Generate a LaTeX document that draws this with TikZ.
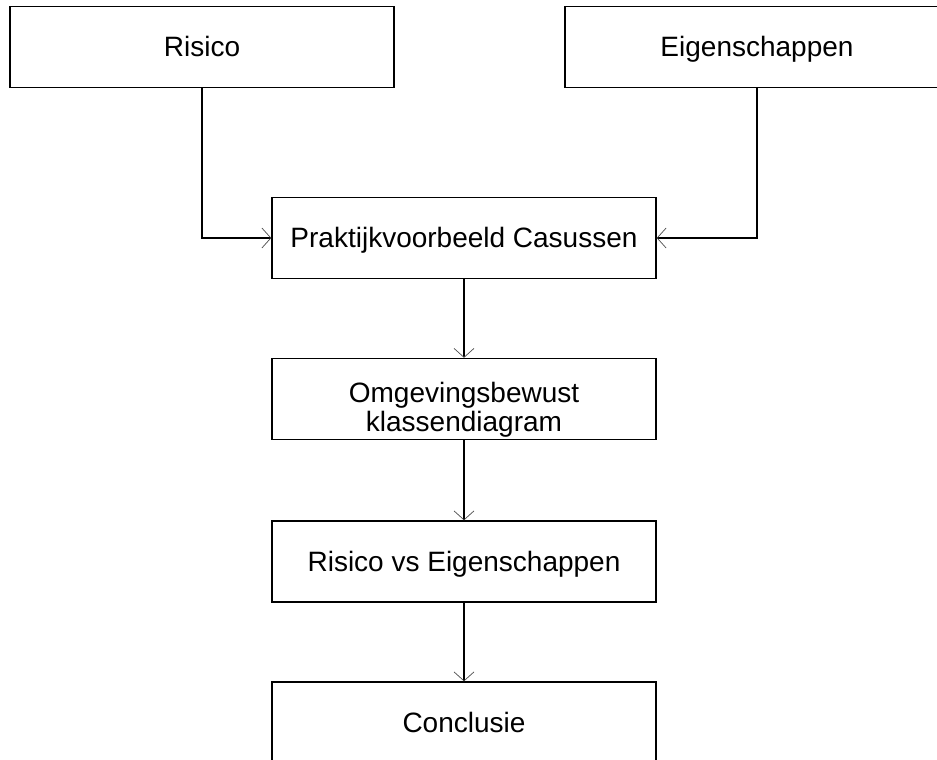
\documentclass[tikz,border=0pt]{standalone}
\usepackage{fontspec}
\setmainfont{Liberation Sans}
\usetikzlibrary{arrows.meta}
\begin{document}
\begin{tikzpicture}[x=1pt,y=-1pt,
  box/.style={draw, line width=1.3pt, minimum width=384pt, minimum height=81pt,
    inner sep=0pt, align=center, font=\fontsize{28}{29}\selectfont,
    text height=20pt, text depth=1pt},
  twoline/.style={text height=26pt, text depth=20pt},
  link/.style={line width=1.3pt,
    -{Straight Barb[length=9pt,width=20pt,line width=0.7pt,color=black!70]}}
]
\clip (0,0) rectangle (937,760);
% top row
\node[box] (risico) at (202,47) {Risico};
\node[box] (eigen) at (757,47) {Eigenschappen};
% main column
\node[box] (prak) at (464,238) {Praktijkvoorbeeld Casussen};
\node[box, twoline] (omg) at (464,399)
  {\parbox[t]{300pt}{\centering Omgevingsbewust\\klassendiagram}};
\node[box] (rve) at (464,561.5) {Risico vs Eigenschappen};
\node[box] (concl) at (464,722.5) {Conclusie};
% connectors
\draw[link] (risico.south) |- (prak.west);
\draw[link] (eigen.south) |- (prak.east);
\draw[link] (prak) -- (omg);
\draw[link] (omg) -- (rve);
\draw[link] (rve) -- (concl);
\end{tikzpicture}
\end{document}
